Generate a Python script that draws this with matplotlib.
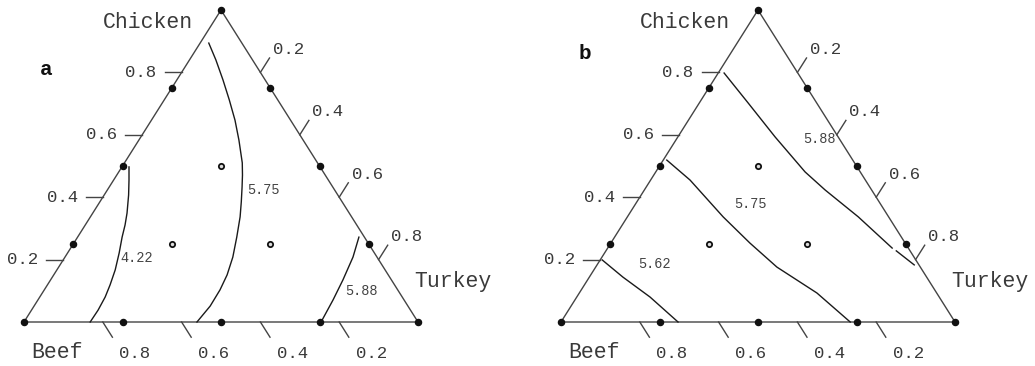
import matplotlib.pyplot as plt

# {3,4} simplex-lattice design: turkey / chicken fractions, beef is the remainder
edge_turkey = [0, 1, 0, 0.25, 0.5, 0.75, 0.75, 0.5, 0.25, 0, 0, 0]
edge_chicken = [0, 0, 1, 0, 0, 0, 0.25, 0.5, 0.75, 0.25, 0.5, 0.75]
centre_turkey = [0.25, 0.25, 0.5]
centre_chicken = [0.5, 0.25, 0.25]

tick_values = [0.2, 0.4, 0.6, 0.8]

# panel a contours (turkey, chicken fractions along each line)
a_422_turkey = [0.018, 0.039, 0.062, 0.087, 0.101, 0.113, 0.131, 0.148, 0.159,
                0.166, 0.169, 0.168]
a_422_chicken = [0.497, 0.455, 0.407, 0.349, 0.311, 0.272, 0.221, 0.167, 0.119,
                 0.080, 0.038, 0.0]
a_575_turkey = [0.022, 0.067, 0.117, 0.165, 0.212, 0.254, 0.299, 0.319, 0.337,
                0.359, 0.380, 0.404, 0.426, 0.440, 0.446, 0.447, 0.439]
a_575_chicken = [0.894, 0.840, 0.776, 0.712, 0.647, 0.583, 0.510, 0.471, 0.433,
                 0.385, 0.337, 0.272, 0.208, 0.151, 0.103, 0.051, 0.0]
a_588_turkey = [0.714, 0.731, 0.742, 0.749, 0.754]
a_588_chicken = [0.272, 0.208, 0.135, 0.071, 0.0]

# panel b contours
b_562_turkey = [0.005, 0.085, 0.186, 0.297]
b_562_chicken = [0.199, 0.144, 0.080, 0.0]
b_575_turkey = [0.009, 0.100, 0.243, 0.353, 0.460, 0.603, 0.734]
b_575_chicken = [0.519, 0.455, 0.337, 0.253, 0.176, 0.093, 0.0]
b_588_turkey = [0.015, 0.124, 0.247, 0.379, 0.459, 0.586, 0.722]
b_588_chicken = [0.798, 0.702, 0.593, 0.481, 0.423, 0.337, 0.237]
# short broken piece where the 5.88 line meets the turkey edge
b_588_tail_turkey = [0.737, 0.805]
b_588_tail_chicken = [0.228, 0.183]

# contour label anchors (turkey, chicken)
a_labels = [("4.22", 0.184, 0.205), ("5.75", 0.395, 0.423), ("5.88", 0.806, 0.099)]
b_labels = [("5.88", 0.362, 0.587), ("5.75", 0.291, 0.378), ("5.62", 0.143, 0.186)]

MONO = "Liberation Mono"
INK = "#3a3a3a"
EDGE = "#444444"
W_PX, H_PX = 394.0, 312.0


def to_xy(turkey, chicken):
    x = [t + c / 2 for t, c in zip(turkey, chicken)]
    return x, list(chicken)


def px(dx, dy):
    # pixel offsets (y downwards) -> data offsets
    return dx / W_PX, -dy / H_PX


def draw_panel(ax, letter, letter_pos, contours, labels):
    ax.set_xlim(0, 1)
    ax.set_ylim(0, 1)
    ax.axis("off")

    # triangle outline
    x, y = to_xy([0, 1, 0, 0], [0, 0, 1, 0])
    ax.plot(x, y, color=EDGE, lw=1.0, clip_on=False, zorder=2)

    # chicken ticks on the left edge
    for v in tick_values:
        x0, y0 = v / 2, v
        dx, _ = px(17, 0)
        ax.plot([x0, x0 - dx], [y0, y0], color=EDGE, lw=1.0, clip_on=False)
        lx, _ = px(25, 0)
        ax.text(x0 - lx, y0, f"{v:.1f}", ha="right", va="center", fontsize=12.5,
                family=MONO, color=INK)

    # beef ticks on the bottom edge
    for v in tick_values:
        x0, y0 = 1 - v, 0
        dx, dy = px(9.6, 15.2)
        ax.plot([x0, x0 + dx], [y0, y0 + dy], color=EDGE, lw=1.0, clip_on=False)
        lx, ly = px(32, 31)
        ax.text(x0 + lx, y0 + ly, f"{v:.1f}", ha="center", va="center", fontsize=12.5,
                family=MONO, color=INK)

    # turkey ticks on the right edge
    for v in tick_values:
        x0, y0 = (1 + v) / 2, 1 - v
        dx, dy = px(9.1, -14.4)
        ax.plot([x0, x0 + dx], [y0, y0 + dy], color=EDGE, lw=1.0, clip_on=False)
        lx, ly = px(28, -23)
        ax.text(x0 + lx, y0 + ly, f"{v:.1f}", ha="center", va="center", fontsize=12.5,
                family=MONO, color=INK)

    # vertex names
    ox, oy = px(-73, 13)
    ax.text(0.5 + ox, 1 + oy, "Chicken", ha="center", va="center", fontsize=15.5,
            family=MONO, color=INK)
    ox, oy = px(35, -41)
    ax.text(1 + ox, 0 + oy, "Turkey", ha="center", va="center", fontsize=15.5,
            family=MONO, color=INK)
    ox, oy = px(33, 31)
    ax.text(0 + ox, 0 + oy, "Beef", ha="center", va="center", fontsize=15.5,
            family=MONO, color=INK)

    ax.text(letter_pos[0], letter_pos[1], letter, ha="center", va="center",
            fontsize=15, fontweight="bold", family=MONO, color="#111111")

    # response contours
    for turkey, chicken in contours:
        x, y = to_xy(turkey, chicken)
        ax.plot(x, y, color="#1a1a1a", lw=1.0, clip_on=False, zorder=3)
    for text, t, c in labels:
        ax.text(t + c / 2, c, text, ha="center", va="center", fontsize=9.8,
                family=MONO, color="#444444", zorder=4)

    # design points
    x, y = to_xy(edge_turkey, edge_chicken)
    ax.plot(x, y, "o", ms=4.4, color="#111111", clip_on=False, zorder=5)
    x, y = to_xy(centre_turkey, centre_chicken)
    ax.plot(x, y, "o", ms=3.8, mfc="#dddddd", mec="#111111", mew=1.3,
            clip_on=False, zorder=5)


fig = plt.figure(figsize=(10.35, 3.66), dpi=100)
fig.patch.set_facecolor("white")

ax_a = fig.add_axes([24 / 1035, 44 / 366, W_PX / 1035, H_PX / 366])
ax_b = fig.add_axes([561 / 1035, 44 / 366, W_PX / 1035, H_PX / 366])

draw_panel(ax_a, "a", (0.056, 0.808),
           [(a_422_turkey, a_422_chicken), (a_575_turkey, a_575_chicken),
            (a_588_turkey, a_588_chicken)], a_labels)
draw_panel(ax_b, "b", (0.061, 0.862),
           [(b_562_turkey, b_562_chicken), (b_575_turkey, b_575_chicken),
            (b_588_turkey, b_588_chicken), (b_588_tail_turkey, b_588_tail_chicken)],
           b_labels)

fig.savefig("out.png", dpi=100)
